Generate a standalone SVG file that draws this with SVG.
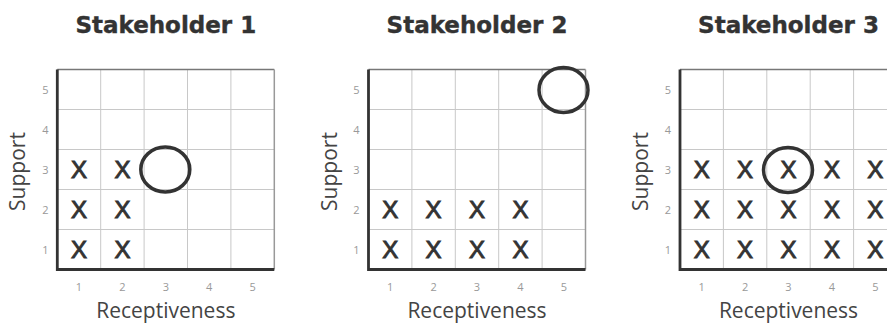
<svg xmlns="http://www.w3.org/2000/svg" xmlns:xlink="http://www.w3.org/1999/xlink" width="887" height="324" viewBox="0 0 887 324">
<style>
.title{font-family:"DejaVu Sans","Liberation Sans",sans-serif;font-weight:bold;font-size:23px;fill:#333;stroke:#333;stroke-width:0.4;text-anchor:middle}
.tick{font-family:"Open Sans","Liberation Sans",sans-serif;font-size:11px;fill:#999;text-anchor:middle}
.axl{font-family:"Open Sans","Liberation Sans",sans-serif;font-size:21px;fill:#444;text-anchor:middle}
.x{font-family:"Liberation Sans","Arial",sans-serif;font-size:24px;fill:#333;stroke:#333;stroke-width:1;text-anchor:middle}
.grid{stroke:#c8c8c8;stroke-width:1;fill:none}
.mark{fill:none;stroke:#333;stroke-width:3.5}
</style>
<defs>
<g id="grid">
<rect x="0" y="0" width="217" height="200" fill="#fff"/>
<path class="grid" d="M43.4,0V200M86.8,0V200M130.2,0V200M173.6,0V200M0,40H217M0,80H217M0,120H217M0,160H217"/>
<path d="M0,0H217" stroke="#777" stroke-width="1.5"/>
<path d="M217,0V200" stroke="#999" stroke-width="1.5"/>
<path d="M0,0V200H217" stroke="#333" stroke-width="2.8" fill="none"/>
<g class="tick">
<text x="-12" y="24">5</text><text x="-12" y="64">4</text><text x="-12" y="104">3</text><text x="-12" y="144">2</text><text x="-12" y="184">1</text>
<text x="21.7" y="221">1</text><text x="65.1" y="221">2</text><text x="108.5" y="221">3</text><text x="151.9" y="221">4</text><text x="195.3" y="221">5</text>
</g>
<text class="axl" x="108.5" y="248">Receptiveness</text>
<text class="axl" transform="translate(-32,102) rotate(-90)">Support</text>
</g>
</defs>

<g id="stakeholder1" transform="translate(57.3,69.5)">
<text class="title" x="108.5" y="-36.5">Stakeholder 1</text>
<use xlink:href="#grid"/>
<g class="x">
<text x="21.7" y="188.5">X</text><text x="65.1" y="188.5">X</text>
<text x="21.7" y="148.5">X</text><text x="65.1" y="148.5">X</text>
<text x="21.7" y="108.5">X</text><text x="65.1" y="108.5">X</text>
</g>
<ellipse class="mark" cx="108" cy="100" rx="24.5" ry="22.5"/>
</g>

<g id="stakeholder2" transform="translate(368.5,69.5)">
<text class="title" x="108.5" y="-36.5">Stakeholder 2</text>
<use xlink:href="#grid"/>
<g class="x">
<text x="21.7" y="188.5">X</text><text x="65.1" y="188.5">X</text><text x="108.5" y="188.5">X</text><text x="151.9" y="188.5">X</text>
<text x="21.7" y="148.5">X</text><text x="65.1" y="148.5">X</text><text x="108.5" y="148.5">X</text><text x="151.9" y="148.5">X</text>
</g>
<ellipse class="mark" cx="195" cy="20.5" rx="24.5" ry="22.5"/>
</g>

<g id="stakeholder3" transform="translate(680,69.5)">
<text class="title" x="108.5" y="-36.5">Stakeholder 3</text>
<use xlink:href="#grid"/>
<g class="x">
<text x="21.7" y="188.5">X</text><text x="65.1" y="188.5">X</text><text x="108.5" y="188.5">X</text><text x="151.9" y="188.5">X</text><text x="195.3" y="188.5">X</text>
<text x="21.7" y="148.5">X</text><text x="65.1" y="148.5">X</text><text x="108.5" y="148.5">X</text><text x="151.9" y="148.5">X</text><text x="195.3" y="148.5">X</text>
<text x="21.7" y="108.5">X</text><text x="65.1" y="108.5">X</text><text x="108.5" y="108.5">X</text><text x="151.9" y="108.5">X</text><text x="195.3" y="108.5">X</text>
</g>
<ellipse class="mark" cx="108" cy="100.5" rx="24.5" ry="22.5"/>
</g>
</svg>
